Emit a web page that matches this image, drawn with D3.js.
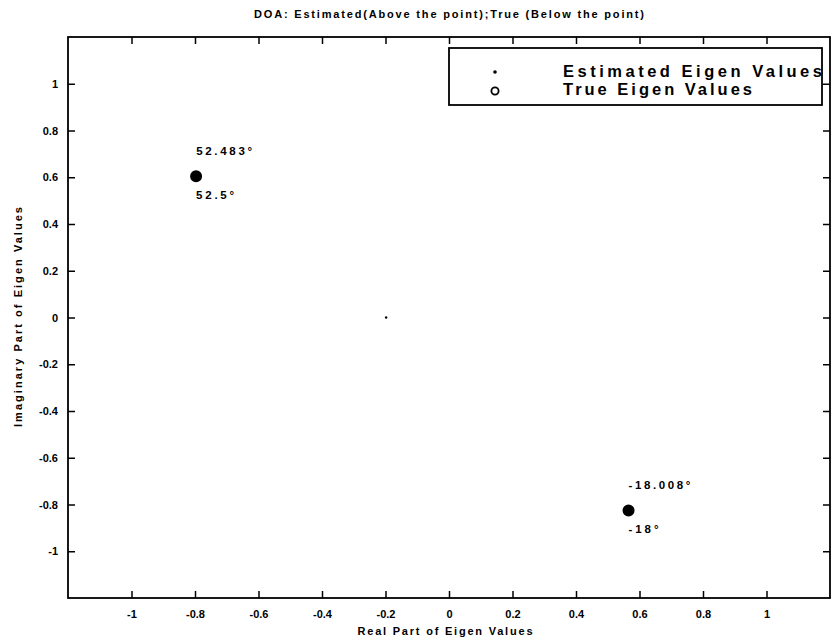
<!DOCTYPE html>
<html>
<head>
<meta charset="utf-8">
<script src="https://cdn.jsdelivr.net/npm/d3@7/dist/d3.min.js"></script>
<style>
  html, body { margin: 0; padding: 0; background: #fff; }
  svg { display: block; }
  text { font-family: "Liberation Sans", Arial, Helvetica, sans-serif; font-weight: bold; fill: #000; }
</style>
</head>
<body>
<script>
// Directions of arrival (degrees): true and estimated
const doaTrue = [52.5, -18];
const doaEst = [52.483, -18.008];

// Eigenvalues on the complex plane
const trueRe = [-0.7966, 0.5655];
const trueIm = [0.6045, -0.8253];
const estRe = [-0.7963, 0.5651];
const estIm = [0.6050, -0.8256];

// Remaining (noise) estimated eigenvalue
const noiseRe = [-0.198];
const noiseIm = [0.0];

// Axis ticks
const xTicks = [-1, -0.8, -0.6, -0.4, -0.2, 0, 0.2, 0.4, 0.6, 0.8, 1];
const yTicks = [-1, -0.8, -0.6, -0.4, -0.2, 0, 0.2, 0.4, 0.6, 0.8, 1];

const legendLabels = ["Estimated Eigen Values", "True Eigen Values"];

const W = 833, H = 641;
const m = { left: 68, right: 3, top: 37, bottom: 43 };

const svg = d3.select("body").append("svg").attr("width", W).attr("height", H);

const x = d3.scaleLinear().domain([-1.2, 1.2]).range([m.left, W - m.right]);
const y = d3.scaleLinear().domain([-1.2, 1.2]).range([H - m.bottom, m.top]);

const fmt = d => String(+d.toFixed(1));
const tickLen = 7;

// Axes: labelled bottom/left, tick-only top/right, ticks pointing inward
const gx = svg.append("g").attr("transform", `translate(0,${y.range()[0]})`)
  .call(d3.axisBottom(x).tickValues(xTicks).tickFormat(fmt).tickSizeInner(-tickLen).tickSizeOuter(0).tickPadding(12));
const gxt = svg.append("g").attr("transform", `translate(0,${y.range()[1]})`)
  .call(d3.axisTop(x).tickValues(xTicks).tickFormat("").tickSizeInner(-tickLen).tickSizeOuter(0));
const gy = svg.append("g").attr("transform", `translate(${x.range()[0]},0)`)
  .call(d3.axisLeft(y).tickValues(yTicks).tickFormat(fmt).tickSizeInner(-tickLen).tickSizeOuter(0).tickPadding(10));
const gyr = svg.append("g").attr("transform", `translate(${x.range()[1]},0)`)
  .call(d3.axisRight(y).tickValues(yTicks).tickFormat("").tickSizeInner(-tickLen).tickSizeOuter(0));

[gx, gxt, gy, gyr].forEach(g => {
  g.select(".domain").remove();
  g.selectAll(".tick line").attr("stroke", "#000").attr("stroke-width", 1.5);
  g.selectAll(".tick text").style("font-size", "11px").style("font-weight", "bold")
    .style("font-family", '"Liberation Sans", Arial, sans-serif').attr("fill", "#000");
});

// Plot frame
svg.append("rect")
  .attr("x", x.range()[0]).attr("y", y.range()[1])
  .attr("width", x.range()[1] - x.range()[0])
  .attr("height", y.range()[0] - y.range()[1])
  .attr("fill", "none").attr("stroke", "#000").attr("stroke-width", 1.8);

// Title and axis labels
svg.append("text").attr("x", 449).attr("y", 18).attr("text-anchor", "middle")
  .style("font-size", "11px").attr("textLength", 390).attr("lengthAdjust", "spacing")
  .text("DOA: Estimated(Above the point);True (Below the point)");

svg.append("text").attr("x", 445).attr("y", 635).attr("text-anchor", "middle")
  .style("font-size", "11px").attr("textLength", 175).attr("lengthAdjust", "spacing")
  .text("Real Part of Eigen Values");

svg.append("text").attr("transform", "translate(22,317) rotate(-90)").attr("text-anchor", "middle")
  .style("font-size", "11px").attr("textLength", 220).attr("lengthAdjust", "spacing")
  .text("Imaginary Part of Eigen Values");

// True eigenvalues
svg.append("g").selectAll("circle").data(d3.range(trueRe.length)).join("circle")
  .attr("cx", i => x(trueRe[i])).attr("cy", i => y(trueIm[i])).attr("r", 5)
  .attr("fill", "#000").attr("stroke", "#000").attr("stroke-width", 2);

// Estimated eigenvalues
svg.append("g").selectAll("circle").data(d3.range(estRe.length)).join("circle")
  .attr("cx", i => x(estRe[i])).attr("cy", i => y(estIm[i])).attr("r", 1.6).attr("fill", "#000");
svg.append("g").selectAll("circle").data(d3.range(noiseRe.length)).join("circle")
  .attr("cx", i => x(noiseRe[i])).attr("cy", i => y(noiseIm[i])).attr("r", 1.2).attr("fill", "#000");

// DOA labels: estimated above, true below
const estW = [56, 62], trueW = [38, 30];
svg.append("g").selectAll("text").data(d3.range(doaEst.length)).join("text")
  .attr("x", i => x(estRe[i])).attr("y", i => y(estIm[i]) - 21)
  .style("font-size", "11.5px")
  .attr("textLength", i => estW[i]).attr("lengthAdjust", "spacing")
  .text(i => doaEst[i] + "°");
svg.append("g").selectAll("text").data(d3.range(doaTrue.length)).join("text")
  .attr("x", i => x(trueRe[i])).attr("y", i => y(trueIm[i]) + 23)
  .style("font-size", "11.5px")
  .attr("textLength", i => trueW[i]).attr("lengthAdjust", "spacing")
  .text(i => doaTrue[i] + "°");

// Legend
const lg = svg.append("g");
lg.append("rect").attr("x", 449).attr("y", 48).attr("width", 373).attr("height", 57)
  .attr("fill", "#fff").attr("stroke", "#000").attr("stroke-width", 1.8);
lg.append("circle").attr("cx", 495).attr("cy", 72).attr("r", 1.8).attr("fill", "#000");
lg.append("circle").attr("cx", 495).attr("cy", 91).attr("r", 3.6).attr("fill", "none")
  .attr("stroke", "#000").attr("stroke-width", 1.8);
const legW = [259, 189];
lg.selectAll("text.leg").data(legendLabels).join("text").attr("class", "leg")
  .attr("x", 563).attr("y", (d, i) => 77 + i * 18)
  .style("font-size", "16.5px")
  .attr("textLength", (d, i) => legW[i]).attr("lengthAdjust", "spacing")
  .text(d => d);
</script>
</body>
</html>
